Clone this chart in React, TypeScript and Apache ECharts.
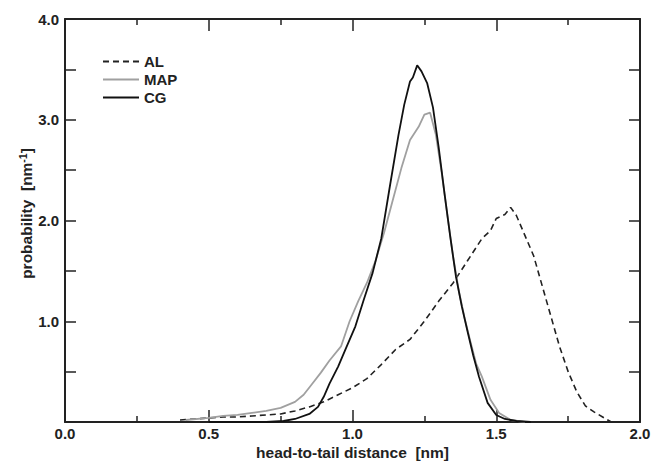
import React, { useEffect, useRef } from "react";
import * as echarts from "echarts";

const alX = [0.40, 0.45, 0.50, 0.55, 0.60, 0.65, 0.70, 0.75, 0.80, 0.85, 0.90, 0.95, 1.00, 1.05, 1.10, 1.15, 1.20, 1.25, 1.30, 1.35, 1.40, 1.45, 1.48, 1.50, 1.53, 1.55, 1.57, 1.60, 1.63, 1.66, 1.69, 1.72, 1.75, 1.78, 1.81, 1.84, 1.87, 1.90];
const alY = [0.02, 0.03, 0.04, 0.05, 0.05, 0.06, 0.07, 0.08, 0.11, 0.15, 0.20, 0.27, 0.34, 0.43, 0.57, 0.72, 0.82, 1.00, 1.20, 1.38, 1.60, 1.82, 1.90, 2.02, 2.06, 2.13, 2.05, 1.85, 1.65, 1.35, 1.05, 0.75, 0.50, 0.30, 0.16, 0.10, 0.05, 0.00];

const mapX = [0.42, 0.50, 0.55, 0.60, 0.65, 0.70, 0.75, 0.80, 0.83, 0.86, 0.89, 0.92, 0.96, 0.99, 1.02, 1.05, 1.08, 1.11, 1.14, 1.17, 1.20, 1.23, 1.25, 1.27, 1.29, 1.31, 1.33, 1.35, 1.37, 1.39, 1.41, 1.43, 1.45, 1.48, 1.51, 1.55, 1.60];
const mapY = [0.02, 0.04, 0.06, 0.07, 0.09, 0.11, 0.14, 0.20, 0.27, 0.38, 0.49, 0.61, 0.75, 1.00, 1.20, 1.38, 1.60, 1.88, 2.20, 2.52, 2.80, 2.93, 3.05, 3.07, 2.85, 2.48, 2.05, 1.64, 1.30, 1.03, 0.80, 0.58, 0.45, 0.22, 0.09, 0.02, 0.00];

const cgX = [0.50, 0.60, 0.70, 0.76, 0.80, 0.85, 0.88, 0.90, 0.92, 0.95, 0.98, 1.01, 1.04, 1.07, 1.10, 1.13, 1.16, 1.18, 1.20, 1.21, 1.225, 1.24, 1.26, 1.28, 1.30, 1.32, 1.34, 1.36, 1.38, 1.40, 1.42, 1.44, 1.47, 1.50, 1.53, 1.57, 1.62];
const cgY = [0.00, 0.00, 0.00, 0.01, 0.03, 0.08, 0.15, 0.25, 0.38, 0.55, 0.75, 0.95, 1.22, 1.48, 1.82, 2.34, 2.85, 3.15, 3.38, 3.42, 3.54, 3.48, 3.36, 3.12, 2.72, 2.27, 1.84, 1.44, 1.15, 0.90, 0.66, 0.45, 0.19, 0.07, 0.03, 0.01, 0.00];

const seriesNames = ["AL", "MAP", "CG"];
const xAxisTitle = "head-to-tail distance  [nm]";

const FONT = "'Liberation Sans', Arial, sans-serif";

function pairs(xs: number[], ys: number[]) {
  return xs.map((x, i) => [x, ys[i]]);
}

export default function App() {
  const ref = useRef<HTMLDivElement>(null);
  useEffect(() => {
    if (!ref.current) return;
    const chart = echarts.init(ref.current, null, { renderer: "svg" });
    const axisLine = { show: true, onZero: false, lineStyle: { color: "#222", width: 2 } };
    const labelStyle = { color: "#222", fontFamily: FONT, fontWeight: "bold" as const, fontSize: 15 };
    const tickStyle = { color: "#222", width: 1.5 };
    chart.setOption({
      animation: false,
      backgroundColor: "#fff",
      grid: { left: 65, right: 12, top: 19, bottom: 40, containLabel: false, outerBoundsMode: "none" },
      legend: {
        orient: "vertical",
        left: 97,
        top: 49,
        itemWidth: 36,
        itemHeight: 14,
        itemGap: 3,
        data: seriesNames,
        itemStyle: { opacity: 0 },
        textStyle: { ...labelStyle, fontSize: 15, padding: [0, 0, 0, 0] },
      },
      xAxis: [
        {
          type: "value",
          min: 0,
          max: 2,
          interval: 0.5,
          position: "bottom",
          axisLine,
          axisTick: { show: true, inside: true, length: 12, lineStyle: tickStyle },
          minorTick: { show: true, splitNumber: 2, length: 6, lineStyle: tickStyle },
          splitLine: { show: false },
          axisLabel: { ...labelStyle, margin: 4, formatter: (v: number) => v.toFixed(1) },
          name: xAxisTitle,
          nameLocation: "middle",
          nameGap: 22,
          nameMoveOverlap: false,
          nameTextStyle: { ...labelStyle, fontSize: 15.5 },
        },
        {
          type: "value",
          min: 0,
          max: 2,
          interval: 0.5,
          position: "top",
          axisLine,
          axisTick: { show: true, inside: true, length: 12, lineStyle: tickStyle },
          minorTick: { show: true, splitNumber: 2, length: 6, lineStyle: tickStyle },
          splitLine: { show: false },
          axisLabel: { show: false },
        },
      ],
      yAxis: [
        {
          type: "value",
          min: 0,
          max: 4,
          interval: 0.5,
          position: "left",
          axisLine,
          axisTick: { show: true, inside: true, length: 11, lineStyle: tickStyle },
          splitLine: { show: false },
          axisLabel: {
            ...labelStyle,
            margin: 6,
            formatter: (v: number) => (v > 0 && Math.abs(v - Math.round(v)) < 1e-9 ? v.toFixed(1) : ""),
          },
          name: "{pad|}{t|probability  [nm}{s|-1}{t|]}",
          nameLocation: "middle",
          nameGap: 30,
          nameMoveOverlap: false,
          nameTextStyle: {
            rich: {
              pad: { width: 14 },
              t: { ...labelStyle, fontSize: 15.5, lineHeight: 18 },
              s: { ...labelStyle, fontSize: 10.5, lineHeight: 10, verticalAlign: "top" },
            },
          },
        },
        {
          type: "value",
          min: 0,
          max: 4,
          interval: 0.5,
          position: "right",
          axisLine,
          axisTick: { show: true, inside: true, length: 11, lineStyle: tickStyle },
          splitLine: { show: false },
          axisLabel: { show: false },
        },
      ],
      series: [
        {
          name: "AL",
          type: "line",
          symbol: "none",
          data: pairs(alX, alY),
          lineStyle: { color: "#222", width: 1.6, type: [6, 4] },
          itemStyle: { color: "#222" },
        },
        {
          name: "MAP",
          type: "line",
          symbol: "none",
          data: pairs(mapX, mapY),
          lineStyle: { color: "#a0a0a0", width: 1.8 },
          itemStyle: { color: "#a0a0a0" },
        },
        {
          name: "CG",
          type: "line",
          symbol: "none",
          data: pairs(cgX, cgY),
          lineStyle: { color: "#111", width: 1.8 },
          itemStyle: { color: "#111" },
        },
      ],
    });
    return () => chart.dispose();
  }, []);
  return <div ref={ref} style={{ position: "fixed", left: 0, top: 0, width: 652, height: 462 }} />;
}
